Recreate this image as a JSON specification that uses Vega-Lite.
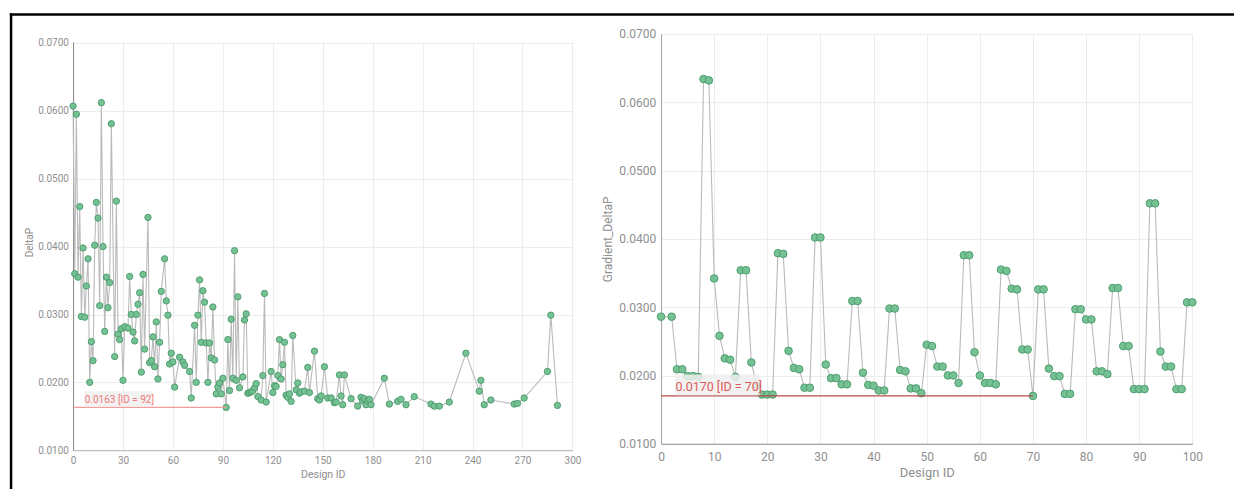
{
  "$schema": "https://vega.github.io/schema/vega-lite/v6.json",
  "padding": {"left": 8.05, "top": 11.95, "right": 0, "bottom": 0},
  "background": "white",
  "config": {
    "view": {"stroke": null},
    "font": "Roboto",
    "axis": {"labelFont": "Roboto", "titleFont": "Roboto", "ticks": false, "gridColor": "#ececec", "titleFontWeight": "normal", "labelColor": "#8f8f8f", "titleColor": "#8f8f8f", "labelFlush": false, "labelOverlap": false},
    "text": {"font": "Roboto"}
  },
  "datasets": {
    "left": [
      {"id":0,"DeltaP":0.0607},{"id":1,"DeltaP":0.0360},{"id":2,"DeltaP":0.0595},{"id":3,"DeltaP":0.0355},{"id":4,"DeltaP":0.0459},{"id":5,"DeltaP":0.0297},{"id":6,"DeltaP":0.0398},{"id":7,"DeltaP":0.0296},{"id":8,"DeltaP":0.0342},{"id":9,"DeltaP":0.0382},
      {"id":10,"DeltaP":0.0200},{"id":11,"DeltaP":0.0260},{"id":12,"DeltaP":0.0232},{"id":13,"DeltaP":0.0402},{"id":14,"DeltaP":0.0465},{"id":15,"DeltaP":0.0442},{"id":16,"DeltaP":0.0313},{"id":17,"DeltaP":0.0612},{"id":18,"DeltaP":0.0400},{"id":19,"DeltaP":0.0275},
      {"id":20,"DeltaP":0.0355},{"id":21,"DeltaP":0.0310},{"id":22,"DeltaP":0.0347},{"id":23,"DeltaP":0.0581},{"id":25,"DeltaP":0.0238},{"id":26,"DeltaP":0.0467},{"id":27,"DeltaP":0.0271},{"id":28,"DeltaP":0.0263},{"id":29,"DeltaP":0.0279},
      {"id":30,"DeltaP":0.0203},{"id":31,"DeltaP":0.0282},{"id":33,"DeltaP":0.0280},{"id":34,"DeltaP":0.0356},{"id":35,"DeltaP":0.0300},{"id":36,"DeltaP":0.0274},{"id":37,"DeltaP":0.0261},{"id":38,"DeltaP":0.0300},{"id":39,"DeltaP":0.0315},
      {"id":40,"DeltaP":0.0332},{"id":41,"DeltaP":0.0215},{"id":42,"DeltaP":0.0359},{"id":43,"DeltaP":0.0249},{"id":45,"DeltaP":0.0443},{"id":46,"DeltaP":0.0229},{"id":47,"DeltaP":0.0232},{"id":48,"DeltaP":0.0267},{"id":49,"DeltaP":0.0223},
      {"id":50,"DeltaP":0.0289},{"id":51,"DeltaP":0.0205},{"id":52,"DeltaP":0.0259},{"id":53,"DeltaP":0.0334},{"id":55,"DeltaP":0.0382},{"id":56,"DeltaP":0.0320},{"id":57,"DeltaP":0.0299},{"id":58,"DeltaP":0.0227},{"id":59,"DeltaP":0.0243},
      {"id":60,"DeltaP":0.0230},{"id":61,"DeltaP":0.0193},{"id":64,"DeltaP":0.0237},{"id":66,"DeltaP":0.0230},{"id":67,"DeltaP":0.0225},{"id":70,"DeltaP":0.0216},{"id":71,"DeltaP":0.0177},{"id":73,"DeltaP":0.0284},{"id":74,"DeltaP":0.0200},
      {"id":75,"DeltaP":0.0299},{"id":76,"DeltaP":0.0351},{"id":77,"DeltaP":0.0259},{"id":78,"DeltaP":0.0335},{"id":79,"DeltaP":0.0318},{"id":80,"DeltaP":0.0258},{"id":81,"DeltaP":0.0200},{"id":82,"DeltaP":0.0258},{"id":83,"DeltaP":0.0236},
      {"id":84,"DeltaP":0.0311},{"id":85,"DeltaP":0.0233},{"id":86,"DeltaP":0.0183},{"id":87,"DeltaP":0.0193},{"id":88,"DeltaP":0.0199},{"id":89,"DeltaP":0.0183},{"id":90,"DeltaP":0.0206},{"id":92,"DeltaP":0.0163},{"id":93,"DeltaP":0.0263},
      {"id":94,"DeltaP":0.0188},{"id":95,"DeltaP":0.0293},{"id":96,"DeltaP":0.0206},{"id":97,"DeltaP":0.0394},{"id":98,"DeltaP":0.0203},{"id":99,"DeltaP":0.0326},{"id":100,"DeltaP":0.0192},{"id":102,"DeltaP":0.0208},{"id":103,"DeltaP":0.0292},
      {"id":104,"DeltaP":0.0301},{"id":105,"DeltaP":0.0184},{"id":106,"DeltaP":0.0185},{"id":107,"DeltaP":0.0186},{"id":108,"DeltaP":0.0188},{"id":109,"DeltaP":0.0192},{"id":110,"DeltaP":0.0198},{"id":111,"DeltaP":0.0179},{"id":113,"DeltaP":0.0174},
      {"id":114,"DeltaP":0.0210},{"id":115,"DeltaP":0.0331},{"id":116,"DeltaP":0.0171},{"id":119,"DeltaP":0.0216},{"id":120,"DeltaP":0.0185},{"id":121,"DeltaP":0.0195},{"id":122,"DeltaP":0.0194},{"id":123,"DeltaP":0.0210},{"id":124,"DeltaP":0.0263},
      {"id":125,"DeltaP":0.0205},{"id":126,"DeltaP":0.0226},{"id":127,"DeltaP":0.0259},{"id":128,"DeltaP":0.0181},{"id":129,"DeltaP":0.0178},{"id":130,"DeltaP":0.0183},{"id":131,"DeltaP":0.0172},{"id":132,"DeltaP":0.0269},{"id":134,"DeltaP":0.0189},
      {"id":135,"DeltaP":0.0199},{"id":136,"DeltaP":0.0184},{"id":137,"DeltaP":0.0186},{"id":139,"DeltaP":0.0187},{"id":141,"DeltaP":0.0222},{"id":142,"DeltaP":0.0185},{"id":145,"DeltaP":0.0246},{"id":147,"DeltaP":0.0176},{"id":148,"DeltaP":0.0174},
      {"id":149,"DeltaP":0.0180},{"id":151,"DeltaP":0.0223},{"id":153,"DeltaP":0.0177},{"id":155,"DeltaP":0.0177},{"id":157,"DeltaP":0.0170},{"id":158,"DeltaP":0.0171},{"id":160,"DeltaP":0.0211},{"id":161,"DeltaP":0.0180},{"id":162,"DeltaP":0.0167},
      {"id":163,"DeltaP":0.0211},{"id":167,"DeltaP":0.0176},{"id":171,"DeltaP":0.0165},{"id":173,"DeltaP":0.0178},{"id":174,"DeltaP":0.0173},{"id":175,"DeltaP":0.0176},{"id":176,"DeltaP":0.0167},{"id":177,"DeltaP":0.0173},{"id":178,"DeltaP":0.0175},
      {"id":179,"DeltaP":0.0167},{"id":187,"DeltaP":0.0206},{"id":190,"DeltaP":0.0168},{"id":195,"DeltaP":0.0172},{"id":197,"DeltaP":0.0175},{"id":200,"DeltaP":0.0167},{"id":205,"DeltaP":0.0179},{"id":215,"DeltaP":0.0168},{"id":217,"DeltaP":0.0165},
      {"id":220,"DeltaP":0.0165},{"id":226,"DeltaP":0.0171},{"id":236,"DeltaP":0.0243},{"id":244,"DeltaP":0.0187},{"id":245,"DeltaP":0.0203},{"id":247,"DeltaP":0.0167},{"id":251,"DeltaP":0.0174},{"id":265,"DeltaP":0.0168},{"id":267,"DeltaP":0.0169},
      {"id":271,"DeltaP":0.0177},{"id":285,"DeltaP":0.0216},{"id":287,"DeltaP":0.0299},{"id":291,"DeltaP":0.0166}
    ],
    "right": [
      {"id":0,"Gradient_DeltaP":0.0286},{"id":2,"Gradient_DeltaP":0.0286},{"id":3,"Gradient_DeltaP":0.0209},{"id":4,"Gradient_DeltaP":0.0209},{"id":5,"Gradient_DeltaP":0.0199},{"id":6,"Gradient_DeltaP":0.0199},{"id":7,"Gradient_DeltaP":0.0198},
      {"id":8,"Gradient_DeltaP":0.0634},{"id":9,"Gradient_DeltaP":0.0632},{"id":10,"Gradient_DeltaP":0.0342},{"id":11,"Gradient_DeltaP":0.0258},{"id":12,"Gradient_DeltaP":0.0225},{"id":13,"Gradient_DeltaP":0.0223},{"id":14,"Gradient_DeltaP":0.0198},
      {"id":15,"Gradient_DeltaP":0.0354},{"id":16,"Gradient_DeltaP":0.0354},{"id":17,"Gradient_DeltaP":0.0219},{"id":18,"Gradient_DeltaP":0.0185},{"id":19,"Gradient_DeltaP":0.0172},{"id":20,"Gradient_DeltaP":0.0172},{"id":21,"Gradient_DeltaP":0.0172},
      {"id":22,"Gradient_DeltaP":0.0379},{"id":23,"Gradient_DeltaP":0.0378},{"id":24,"Gradient_DeltaP":0.0236},{"id":25,"Gradient_DeltaP":0.0211},{"id":26,"Gradient_DeltaP":0.0209},{"id":27,"Gradient_DeltaP":0.0182},{"id":28,"Gradient_DeltaP":0.0182},
      {"id":29,"Gradient_DeltaP":0.0402},{"id":30,"Gradient_DeltaP":0.0402},{"id":31,"Gradient_DeltaP":0.0216},{"id":32,"Gradient_DeltaP":0.0196},{"id":33,"Gradient_DeltaP":0.0196},{"id":34,"Gradient_DeltaP":0.0187},{"id":35,"Gradient_DeltaP":0.0187},
      {"id":36,"Gradient_DeltaP":0.0309},{"id":37,"Gradient_DeltaP":0.0309},{"id":38,"Gradient_DeltaP":0.0204},{"id":39,"Gradient_DeltaP":0.0186},{"id":40,"Gradient_DeltaP":0.0185},{"id":41,"Gradient_DeltaP":0.0178},{"id":42,"Gradient_DeltaP":0.0178},
      {"id":43,"Gradient_DeltaP":0.0298},{"id":44,"Gradient_DeltaP":0.0298},{"id":45,"Gradient_DeltaP":0.0208},{"id":46,"Gradient_DeltaP":0.0206},{"id":47,"Gradient_DeltaP":0.0181},{"id":48,"Gradient_DeltaP":0.0181},{"id":49,"Gradient_DeltaP":0.0174},
      {"id":50,"Gradient_DeltaP":0.0245},{"id":51,"Gradient_DeltaP":0.0243},{"id":52,"Gradient_DeltaP":0.0213},{"id":53,"Gradient_DeltaP":0.0213},{"id":54,"Gradient_DeltaP":0.0200},{"id":55,"Gradient_DeltaP":0.0200},{"id":56,"Gradient_DeltaP":0.0189},
      {"id":57,"Gradient_DeltaP":0.0376},{"id":58,"Gradient_DeltaP":0.0376},{"id":59,"Gradient_DeltaP":0.0234},{"id":60,"Gradient_DeltaP":0.0200},{"id":61,"Gradient_DeltaP":0.0189},{"id":62,"Gradient_DeltaP":0.0189},{"id":63,"Gradient_DeltaP":0.0187},
      {"id":64,"Gradient_DeltaP":0.0355},{"id":65,"Gradient_DeltaP":0.0353},{"id":66,"Gradient_DeltaP":0.0327},{"id":67,"Gradient_DeltaP":0.0326},{"id":68,"Gradient_DeltaP":0.0238},{"id":69,"Gradient_DeltaP":0.0238},{"id":70,"Gradient_DeltaP":0.0170},
      {"id":71,"Gradient_DeltaP":0.0326},{"id":72,"Gradient_DeltaP":0.0326},{"id":73,"Gradient_DeltaP":0.0210},{"id":74,"Gradient_DeltaP":0.0199},{"id":75,"Gradient_DeltaP":0.0199},{"id":76,"Gradient_DeltaP":0.0173},{"id":77,"Gradient_DeltaP":0.0173},
      {"id":78,"Gradient_DeltaP":0.0297},{"id":79,"Gradient_DeltaP":0.0297},{"id":80,"Gradient_DeltaP":0.0282},{"id":81,"Gradient_DeltaP":0.0282},{"id":82,"Gradient_DeltaP":0.0206},{"id":83,"Gradient_DeltaP":0.0206},{"id":84,"Gradient_DeltaP":0.0202},
      {"id":85,"Gradient_DeltaP":0.0328},{"id":86,"Gradient_DeltaP":0.0328},{"id":87,"Gradient_DeltaP":0.0243},{"id":88,"Gradient_DeltaP":0.0243},{"id":89,"Gradient_DeltaP":0.0180},{"id":90,"Gradient_DeltaP":0.0180},{"id":91,"Gradient_DeltaP":0.0180},
      {"id":92,"Gradient_DeltaP":0.0452},{"id":93,"Gradient_DeltaP":0.0452},{"id":94,"Gradient_DeltaP":0.0235},{"id":95,"Gradient_DeltaP":0.0213},{"id":96,"Gradient_DeltaP":0.0213},{"id":97,"Gradient_DeltaP":0.0180},{"id":98,"Gradient_DeltaP":0.0180},
      {"id":99,"Gradient_DeltaP":0.0307},{"id":100,"Gradient_DeltaP":0.0307}
    ]
  },
  "bounds": "flush",
  "spacing": 88,
  "hconcat": [
    {
      "width": 499.4,
      "height": 416.3,
      "layer": [
        {
          "data": {"name": "left"},
          "mark": {"type": "line", "color": "#bababa", "strokeWidth": 1.1},
          "encoding": {
            "x": {"field": "id", "type": "quantitative", "scale": {"domain": [0, 300], "nice": false, "zero": false},
                  "axis": {"title": "Design ID", "values": [0,30,60,90,120,150,180,210,240,270,300], "format": "d", "grid": true, "domainColor": "#b5b5b5", "labelFontSize": 10, "labelPadding": 5, "titleFontSize": 10.5, "titlePadding": 4}},
            "y": {"field": "DeltaP", "type": "quantitative", "scale": {"domain": [0.01, 0.071326], "nice": false, "zero": false},
                  "axis": {"title": "DeltaP", "values": [0.01,0.02,0.03,0.04,0.05,0.06,0.07], "format": ".4f", "grid": true, "domainColor": "#8a8a8a", "labelFontSize": 10, "labelPadding": 4.6, "titleFontSize": 10, "titlePadding": 3}}
          }
        },
        {
          "data": {"values": [{"k": 0}]},
          "mark": {"type": "rect", "fill": "#ffffff", "opacity": 1},
          "encoding": {"x": {"datum": -0.6, "type": "quantitative"}, "x2": {"datum": 300.6}, "y": {"datum": 0.07009, "type": "quantitative"}, "y2": {"datum": 0.0715}}
        },
        {
          "data": {"name": "left"},
          "mark": {"type": "point", "filled": true, "fill": "#74c194", "stroke": "#4f9d6f", "strokeWidth": 1, "size": 40, "opacity": 1},
          "encoding": {
            "x": {"field": "id", "type": "quantitative"},
            "y": {"field": "DeltaP", "type": "quantitative"}
          }
        },
        {
          "data": {"values": [{"k": 0}]},
          "mark": {"type": "rule", "color": "#f29b9b", "strokeWidth": 1.3},
          "encoding": {"x": {"datum": 0, "type": "quantitative"}, "x2": {"datum": 92}, "y": {"datum": 0.0163, "type": "quantitative"}}
        },
        {
          "data": {"values": [{"k": 0}]},
          "mark": {"type": "rect", "fill": "#eeeeee", "opacity": 0.85},
          "encoding": {"x": {"datum": 6.85, "type": "quantitative"}, "x2": {"datum": 47.3}, "y": {"datum": 0.01646, "type": "quantitative"}, "y2": {"datum": 0.01869}}
        },
        {
          "data": {"values": [{"k": 0}]},
          "mark": {"type": "text", "text": "0.0163 [ID = 92]", "align": "left", "baseline": "bottom", "dy": -2.5, "fontSize": 10, "color": "#ee7b7b"},
          "encoding": {"x": {"datum": 7.0, "type": "quantitative"}, "y": {"datum": 0.0163, "type": "quantitative"}}
        },
        {
          "data": {"values": [{"k": 0}]},
          "mark": {"type": "rule", "color": "#000000", "strokeWidth": 2.5},
          "encoding": {"x": {"datum": -37.245, "type": "quantitative"}, "y": {"datum": 0.074375, "type": "quantitative"}, "y2": {"datum": 0.004181}}
        },
        {
          "data": {"values": [{"k": 0}]},
          "mark": {"type": "rule", "color": "#000000", "strokeWidth": 2.5},
          "encoding": {"x": {"datum": -37.996, "type": "quantitative"}, "x2": {"datum": 698.17}, "y": {"datum": 0.074198, "type": "quantitative"}}
        }
      ]
    },
    {
      "width": 531.3,
      "height": 409.8,
      "layer": [
        {
          "data": {"name": "right"},
          "mark": {"type": "line", "color": "#bababa", "strokeWidth": 1.1},
          "encoding": {
            "x": {"field": "id", "type": "quantitative", "scale": {"domain": [0, 100], "nice": false, "zero": false},
                  "axis": {"title": "Design ID", "values": [0,10,20,30,40,50,60,70,80,90,100], "format": "d", "grid": true, "domainColor": "#8a8a8a", "labelFontSize": 12, "labelPadding": 8, "titleFontSize": 13, "titlePadding": 4}},
            "y": {"field": "Gradient_DeltaP", "type": "quantitative", "scale": {"domain": [0.01, 0.07], "nice": false, "zero": false},
                  "axis": {"title": "Gradient_DeltaP", "values": [0.01,0.02,0.03,0.04,0.05,0.06,0.07], "format": ".4f", "grid": true, "domainColor": "#a5a5a5", "labelFontSize": 12, "labelPadding": 5.4, "titleFontSize": 12, "titlePadding": 4}}
          }
        },
        {
          "data": {"name": "right"},
          "mark": {"type": "point", "filled": true, "fill": "#74c194", "stroke": "#4f9d6f", "strokeWidth": 1, "size": 58, "opacity": 1},
          "encoding": {
            "x": {"field": "id", "type": "quantitative"},
            "y": {"field": "Gradient_DeltaP", "type": "quantitative"}
          }
        },
        {
          "data": {"values": [{"k": 0}]},
          "mark": {"type": "rule", "color": "#b94a48", "strokeWidth": 1.3},
          "encoding": {"x": {"datum": 0, "type": "quantitative"}, "x2": {"datum": 70}, "y": {"datum": 0.0170, "type": "quantitative"}}
        },
        {
          "data": {"values": [{"k": 0}]},
          "mark": {"type": "rect", "fill": "#eeeeee", "opacity": 0.85},
          "encoding": {"x": {"datum": 2.63, "type": "quantitative"}, "x2": {"datum": 18.56}, "y": {"datum": 0.0171, "type": "quantitative"}, "y2": {"datum": 0.02013}}
        },
        {
          "data": {"values": [{"k": 0}]},
          "mark": {"type": "text", "text": "0.0170 [ID = 70]", "align": "left", "baseline": "bottom", "dy": -2, "fontSize": 12.5, "color": "#e05a5a"},
          "encoding": {"x": {"datum": 2.7, "type": "quantitative"}, "y": {"datum": 0.0170, "type": "quantitative"}}
        }
      ]
    }
  ]
}
